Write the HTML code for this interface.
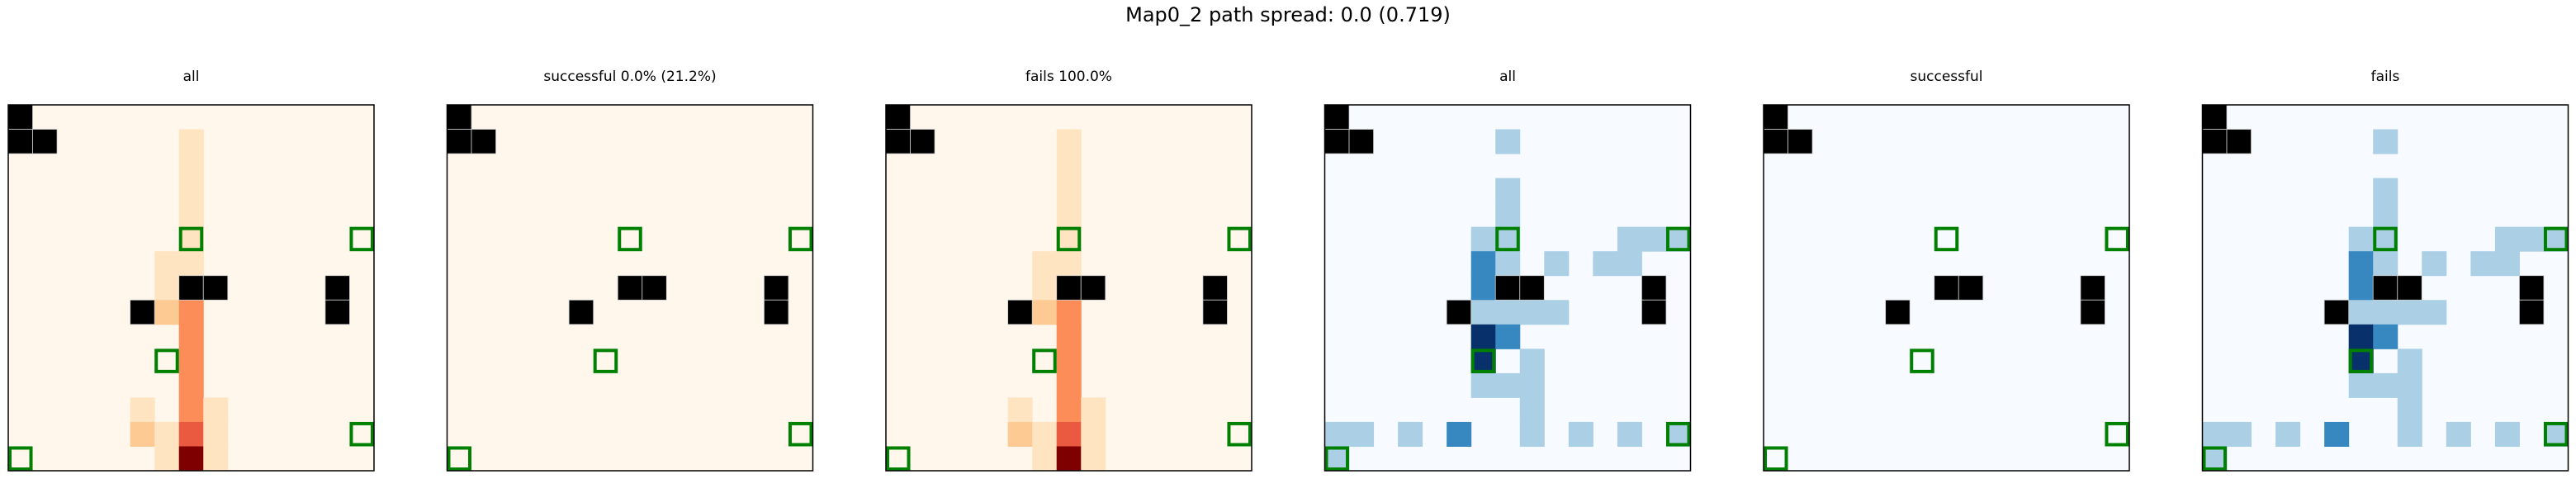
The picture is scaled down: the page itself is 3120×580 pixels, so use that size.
<!DOCTYPE html>
<html><head><meta charset="utf-8"><style>
html,body{margin:0;padding:0;background:#fff;}
svg{display:block;font-family:"DejaVu Sans","Liberation Sans",sans-serif;}
</style></head><body>
<svg id="fig" width="3120" height="580" xmlns="http://www.w3.org/2000/svg">
<text x="1560" y="26" text-anchor="middle" font-size="24" fill="#000">Map0_2 path spread: 0.0 (0.719)</text>
</svg>
<script>
// ---- data ----
const gridSize = 15;
const panelTitles = ["all", "successful 0.0% (21.2%)", "fails 100.0%", "all", "successful", "fails"];
const panelCmaps = ["OrRd", "OrRd", "OrRd", "Blues", "Blues", "Blues"];
const walls = [[0,0],[1,0],[1,1],[7,7],[7,8],[7,13],[8,13],[8,5]];
const goals = [[5,7],[5,14],[10,6],[13,14],[14,0]];
// visit counts [row, col, value]
const visitsAll = [[1,7,3],[2,7,3],[3,7,3],[4,7,3],[5,7,3],[6,6,3],[6,7,3],[7,6,3],
  [8,6,6],[8,7,10],[9,7,10],[10,7,10],[11,7,10],[12,7,10],[12,5,3],[12,8,3],
  [13,5,6],[13,6,3],[13,7,13],[13,8,3],[14,6,3],[14,7,20],[14,8,3]];
const visitsSuccess = [];
const visitsFail = visitsAll;
const visitsMax = 20;
// unique-path spread [row, col, value]
const spreadAll = [[1,7,1],[3,7,1],[4,7,1],[5,6,1],[5,7,1],[5,12,1],[5,13,1],[5,14,1],
  [6,6,2],[6,7,1],[6,9,1],[6,11,1],[6,12,1],[7,6,2],[8,6,1],[8,7,1],[8,8,1],[8,9,1],
  [9,6,3],[9,7,2],[10,6,3],[10,8,1],[11,6,1],[11,7,1],[11,8,1],[12,8,1],
  [13,0,1],[13,1,1],[13,3,1],[13,5,2],[13,8,1],[13,10,1],[13,12,1],[13,14,1],[14,0,1]];
const spreadSuccess = [];
const spreadFail = spreadAll;
const spreadMax = 3;
const panelData = [visitsAll, visitsSuccess, visitsFail, spreadAll, spreadSuccess, spreadFail];
const panelMax = [visitsMax, visitsMax, visitsMax, spreadMax, spreadMax, spreadMax];

// ---- rendering ----
const CMAPS = {
  OrRd: ["#fff7ec","#fee8c8","#fdd49e","#fdbb84","#fc8d59","#ef6548","#d7301f","#b30000","#7f0000"],
  Blues:["#f7fbff","#deebf7","#c6dbef","#9ecae1","#6baed6","#4292c6","#2171b5","#08519c","#08306b"]
};
function hex(c){return [1,3,5].map(i=>parseInt(c.substr(i,2),16));}
function cmap(name,t){
  const s=CMAPS[name]; t=Math.max(0,Math.min(1,t));
  const p=t*(s.length-1), i=Math.min(Math.floor(p),s.length-2), f=p-i;
  const a=hex(s[i]), b=hex(s[i+1]);
  return "rgb("+a.map((v,k)=>Math.round(v+(b[k]-v)*f)).join(",")+")";
}
const NS="http://www.w3.org/2000/svg";
const svg=document.getElementById("fig");
const axW=443, axTop=127, cell=axW/gridSize;
function mk(tag,attrs,parent){const e=document.createElementNS(NS,tag);for(const k in attrs)e.setAttribute(k,attrs[k]);parent.appendChild(e);return e;}
const xScale=(left,c)=>left+c*cell;
const yScale=r=>axTop+r*cell;

panelTitles.forEach((title,p)=>{
  const left=10+p*531.5;
  const g=mk("g",{},svg);
  
  
  const bg=mk("rect",{x:left,y:axTop,width:axW,height:axW,fill:cmap(panelCmaps[p],0)},g);
  
  
  panelData[p].forEach(d=>{
    const r=mk("rect",{x:xScale(left,d[1]),y:yScale(d[0]),width:cell+0.5,height:cell+0.5,fill:cmap(panelCmaps[p],d[2]/panelMax[p])},g);
    
    
  });
  walls.forEach(d=>{
    const r=mk("rect",{x:xScale(left,d[1]),y:yScale(d[0]),width:cell,height:cell,fill:"#000",stroke:"#ccc","stroke-width":0.8},g);
    
    
  });
  goals.forEach(d=>{
    const r=mk("rect",{x:xScale(left,d[1])+2,y:yScale(d[0])+2,width:cell-4,height:cell-4,fill:"none",stroke:"#008000","stroke-width":4},g);
    
    
  });
  const fr=mk("rect",{x:left,y:axTop,width:axW,height:axW,fill:"none",stroke:"#000","stroke-width":1.5},g);
  
  
  const t=mk("text",{x:left+axW/2,y:98,"text-anchor":"middle","font-size":17,fill:"#000"},g);
  t.textContent=title;
  
  
});
</script>
</body></html>
